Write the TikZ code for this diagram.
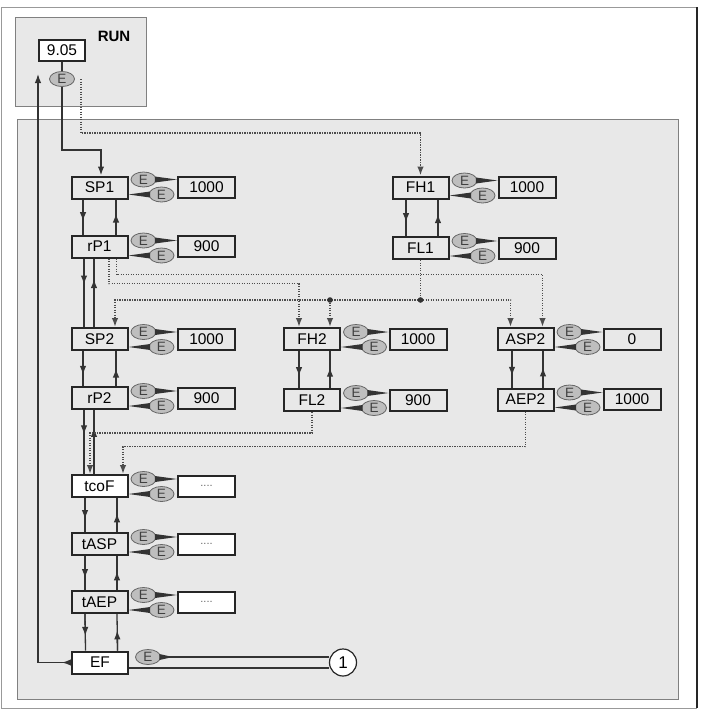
\documentclass[tikz,border=0pt]{standalone}
\usepackage{fontspec}
\setmainfont{Liberation Sans}
\usepackage{xcolor}
\usepackage{tikz}
\usetikzlibrary{arrows.meta,positioning,shapes.geometric,calc}
\definecolor{panelgray}{HTML}{E8E8E8}
\definecolor{keygray}{HTML}{BEBEBE}

\begin{document}
\begin{tikzpicture}[
  x=1pt, y=-1pt,
  panel/.style={draw=black!50, line width=1pt, fill=panelgray},
  par/.style={draw=black!85, line width=2pt, minimum width=56pt, minimum height=22pt, inner sep=0pt, font=\fontsize{15.5}{17}\selectfont},
  val/.style={par, minimum width=57pt, minimum height=21pt},
  wht/.style={fill=white},
  dotsval/.style={val, wht, font=\fontsize{11}{11}\selectfont, text=black!60},
  ekey/.style={ellipse, draw=black!60, line width=0.8pt, fill=keygray, minimum width=25pt, minimum height=15pt, inner sep=0pt, font=\fontsize{13.5}{13}\selectfont, text=black!75},
  wedge/.style={fill=black!80},
  flow/.style={draw=black!80, line width=1.3pt},
  dots/.style={draw=black!70, line width=1.5pt, dash pattern=on 1.3pt off 1.2pt},
  arr/.style={-{Latex[length=9pt,width=6.5pt]}}
]
\useasboundingbox (0,0) rectangle (701,710);

% outer frame
\draw[black!40, line width=1pt] (1,708) -- (1,7) -- (697,7);
\draw[black!40, line width=1pt] (1,708) -- (697,708);
\draw[black!85, line width=2pt] (697,7) -- (697,708);

% run mode
\draw[panel] (15,17) rectangle (146,106);
\node[font=\bfseries\fontsize{15}{16}\selectfont] (run) at (114,36) {RUN};
\node[par, wht, minimum width=46pt, minimum height=21pt] (disp) at (62,50.5) {9.05};
\node[ekey] (erun) at (62,79) {E};
\draw[flow] (disp.south) -- (erun.north);

% menu
\draw[panel] (17,119) rectangle (678,699);

% left column
\node[par] (sp1) at (99.5,187.5) {SP1};
\node[val] (sp1v) at (206.5,187) {1000};
\node[ekey] (sp1a) at ([shift={(15,-8)}]sp1.east) {E};
\node[ekey] (sp1b) at ([shift={(33,7)}]sp1.east) {E};

\node[par] (rp1) at (99.5,246.5) {rP1};
\node[val] (rp1v) at (206.5,246.5) {900};
\node[ekey] (rp1a) at ([shift={(15,-6)}]rp1.east) {E};
\node[ekey] (rp1b) at ([shift={(33,9)}]rp1.east) {E};

\node[par] (sp2) at (99.5,339) {SP2};
\node[val] (sp2v) at (206.5,339) {1000};
\node[ekey] (sp2a) at ([shift={(15,-7)}]sp2.east) {E};
\node[ekey] (sp2b) at ([shift={(33,8)}]sp2.east) {E};

\node[par] (rp2) at (99.5,398) {rP2};
\node[val] (rp2v) at (206.5,398) {900};
\node[ekey] (rp2a) at ([shift={(15,-7)}]rp2.east) {E};
\node[ekey] (rp2b) at ([shift={(33,8)}]rp2.east) {E};

\node[par, wht] (tcof) at (99.5,486) {tcoF};
\node[dotsval] (tcofv) at (206.5,486) {....};
\node[ekey] (tcofa) at ([shift={(15,-7)}]tcof.east) {E};
\node[ekey] (tcofb) at ([shift={(33,8)}]tcof.east) {E};

\node[par] (tasp) at (99.5,544) {tASP};
\node[dotsval] (taspv) at (206.5,544) {....};
\node[ekey] (taspa) at ([shift={(15,-7)}]tasp.east) {E};
\node[ekey] (taspb) at ([shift={(33,8)}]tasp.east) {E};

\node[par] (taep) at (99.5,602) {tAEP};
\node[dotsval] (taepv) at (206.5,602) {....};
\node[ekey] (taepa) at ([shift={(15,-7)}]taep.east) {E};
\node[ekey] (taepb) at ([shift={(33,8)}]taep.east) {E};

\node[par, wht] (ef) at (100,662.5) {EF};
\node[ekey] (efa) at ([shift={(19,-5.5)}]ef.east) {E};
\node[circle, draw=black!85, line width=1.2pt, fill=white, minimum size=27pt, inner sep=0pt, font=\fontsize{17}{17}\selectfont] (one) at (343,662.5) {1};

% middle and right columns
\node[par] (fh1) at (420.5,187.5) {FH1};
\node[val] (fh1v) at (527,187.5) {1000};
\node[ekey] (fh1a) at ([shift={(15,-7)}]fh1.east) {E};
\node[ekey] (fh1b) at ([shift={(33,8)}]fh1.east) {E};

\node[par] (fl1) at (420.5,248) {FL1};
\node[val] (fl1v) at (527,248) {900};
\node[ekey] (fl1a) at ([shift={(15,-7)}]fl1.east) {E};
\node[ekey] (fl1b) at ([shift={(33,8)}]fl1.east) {E};

\node[par] (fh2) at (312,339) {FH2};
\node[val] (fh2v) at (418,339) {1000};
\node[ekey] (fh2a) at ([shift={(15,-7)}]fh2.east) {E};
\node[ekey] (fh2b) at ([shift={(33,8)}]fh2.east) {E};

\node[par] (fl2) at (312,400) {FL2};
\node[val] (fl2v) at (418,400) {900};
\node[ekey] (fl2a) at ([shift={(15,-7)}]fl2.east) {E};
\node[ekey] (fl2b) at ([shift={(33,8)}]fl2.east) {E};

\node[par] (asp2) at (525.5,339) {ASP2};
\node[val] (asp2v) at (632,339) {0};
\node[ekey] (asp2a) at ([shift={(15,-7)}]asp2.east) {E};
\node[ekey] (asp2b) at ([shift={(33,8)}]asp2.east) {E};

\node[par] (aep2) at (525.5,399.5) {AEP2};
\node[val] (aep2v) at (632,399.5) {1000};
\node[ekey] (aep2a) at ([shift={(15,-7)}]aep2.east) {E};
\node[ekey] (aep2b) at ([shift={(33,8)}]aep2.east) {E};

% key wedges
\fill[wedge] ([shift={(-1.5,-3)}]sp1a.east) -- ([shift={(-1.5,3)}]sp1a.east) -- (sp1a -| sp1v.west) -- cycle;
\fill[wedge] ([shift={(1.5,-3)}]sp1b.west) -- ([shift={(1.5,3)}]sp1b.west) -- (sp1b -| sp1.east) -- cycle;
\fill[wedge] ([shift={(-1.5,-3)}]rp1a.east) -- ([shift={(-1.5,3)}]rp1a.east) -- (rp1a -| rp1v.west) -- cycle;
\fill[wedge] ([shift={(1.5,-3)}]rp1b.west) -- ([shift={(1.5,3)}]rp1b.west) -- (rp1b -| rp1.east) -- cycle;
\fill[wedge] ([shift={(-1.5,-3)}]sp2a.east) -- ([shift={(-1.5,3)}]sp2a.east) -- (sp2a -| sp2v.west) -- cycle;
\fill[wedge] ([shift={(1.5,-3)}]sp2b.west) -- ([shift={(1.5,3)}]sp2b.west) -- (sp2b -| sp2.east) -- cycle;
\fill[wedge] ([shift={(-1.5,-3)}]rp2a.east) -- ([shift={(-1.5,3)}]rp2a.east) -- (rp2a -| rp2v.west) -- cycle;
\fill[wedge] ([shift={(1.5,-3)}]rp2b.west) -- ([shift={(1.5,3)}]rp2b.west) -- (rp2b -| rp2.east) -- cycle;
\fill[wedge] ([shift={(-1.5,-3)}]tcofa.east) -- ([shift={(-1.5,3)}]tcofa.east) -- (tcofa -| tcofv.west) -- cycle;
\fill[wedge] ([shift={(1.5,-3)}]tcofb.west) -- ([shift={(1.5,3)}]tcofb.west) -- (tcofb -| tcof.east) -- cycle;
\fill[wedge] ([shift={(-1.5,-3)}]taspa.east) -- ([shift={(-1.5,3)}]taspa.east) -- (taspa -| taspv.west) -- cycle;
\fill[wedge] ([shift={(1.5,-3)}]taspb.west) -- ([shift={(1.5,3)}]taspb.west) -- (taspb -| tasp.east) -- cycle;
\fill[wedge] ([shift={(-1.5,-3)}]taepa.east) -- ([shift={(-1.5,3)}]taepa.east) -- (taepa -| taepv.west) -- cycle;
\fill[wedge] ([shift={(1.5,-3)}]taepb.west) -- ([shift={(1.5,3)}]taepb.west) -- (taepb -| taep.east) -- cycle;
\fill[wedge] ([shift={(-1.5,-3)}]fh1a.east) -- ([shift={(-1.5,3)}]fh1a.east) -- (fh1a -| fh1v.west) -- cycle;
\fill[wedge] ([shift={(1.5,-3)}]fh1b.west) -- ([shift={(1.5,3)}]fh1b.west) -- (fh1b -| fh1.east) -- cycle;
\fill[wedge] ([shift={(-1.5,-3)}]fl1a.east) -- ([shift={(-1.5,3)}]fl1a.east) -- (fl1a -| fl1v.west) -- cycle;
\fill[wedge] ([shift={(1.5,-3)}]fl1b.west) -- ([shift={(1.5,3)}]fl1b.west) -- (fl1b -| fl1.east) -- cycle;
\fill[wedge] ([shift={(-1.5,-3)}]fh2a.east) -- ([shift={(-1.5,3)}]fh2a.east) -- (fh2a -| fh2v.west) -- cycle;
\fill[wedge] ([shift={(1.5,-3)}]fh2b.west) -- ([shift={(1.5,3)}]fh2b.west) -- (fh2b -| fh2.east) -- cycle;
\fill[wedge] ([shift={(-1.5,-3)}]fl2a.east) -- ([shift={(-1.5,3)}]fl2a.east) -- (fl2a -| fl2v.west) -- cycle;
\fill[wedge] ([shift={(1.5,-3)}]fl2b.west) -- ([shift={(1.5,3)}]fl2b.west) -- (fl2b -| fl2.east) -- cycle;
\fill[wedge] ([shift={(-1.5,-3)}]asp2a.east) -- ([shift={(-1.5,3)}]asp2a.east) -- (asp2a -| asp2v.west) -- cycle;
\fill[wedge] ([shift={(1.5,-3)}]asp2b.west) -- ([shift={(1.5,3)}]asp2b.west) -- (asp2b -| asp2.east) -- cycle;
\fill[wedge] ([shift={(-1.5,-3)}]aep2a.east) -- ([shift={(-1.5,3)}]aep2a.east) -- (aep2a -| aep2v.west) -- cycle;
\fill[wedge] ([shift={(1.5,-3)}]aep2b.west) -- ([shift={(1.5,3)}]aep2b.west) -- (aep2b -| aep2.east) -- cycle;
\fill[wedge] ([shift={(-1.5,-3)}]efa.east) -- ([shift={(-1.5,3)}]efa.east) -- ([xshift=12pt]efa.east) -- cycle;

% EF exits to 1
\draw[flow] (efa.east) -- (efa -| one.west);
\draw[flow] ([yshift=-5.5pt]ef.east) -- ([yshift=-5.5pt]ef.east -| one.west);

% from RUN into the menu
\draw[flow, line width=1.7pt, arr] (erun.south) -- ++(0,63) -| ([xshift=1.5pt]sp1.north);
\draw[dots, arr] ([xshift=6pt]erun.east) -- ++(0,54) -| (fh1.north);

% back to RUN
\coordinate (back) at ([yshift=-12pt]disp.south west);
\draw[flow, arr] (ef.west) -| (back);
\draw[flow, arr] (ef.west) -- ++(-9,0);

% scrolling, left column (line, then arrow part way)
\draw[flow] ([xshift=-16.5pt]sp1.south) -- ([xshift=-16.5pt]rp1.north);
\draw[flow, arr] ([xshift=-16.5pt]sp1.south) -- ($([xshift=-16.5pt]sp1.south)!0.62!([xshift=-16.5pt]rp1.north)$);
\draw[flow] ([xshift=16.5pt]rp1.north) -- ([xshift=16.5pt]sp1.south);
\draw[flow, arr] ([xshift=16.5pt]rp1.north) -- ($([xshift=16.5pt]rp1.north)!0.6!([xshift=16.5pt]sp1.south)$);
\draw[flow] ([xshift=-15.5pt]rp1.south) -- ([xshift=-15.5pt]sp2.north);
\draw[flow, arr] ([xshift=-15.5pt]rp1.south) -- ($([xshift=-15.5pt]rp1.south)!0.38!([xshift=-15.5pt]sp2.north)$);
\draw[flow] ([xshift=-5.5pt]sp2.north) -- ([xshift=-5.5pt]rp1.south);
\draw[flow, arr] ([xshift=-5.5pt]sp2.north) -- ($([xshift=-5.5pt]sp2.north)!0.7!([xshift=-5.5pt]rp1.south)$);
\draw[flow] ([xshift=-16.5pt]sp2.south) -- ([xshift=-16.5pt]rp2.north);
\draw[flow, arr] ([xshift=-16.5pt]sp2.south) -- ($([xshift=-16.5pt]sp2.south)!0.68!([xshift=-16.5pt]rp2.north)$);
\draw[flow] ([xshift=16.5pt]rp2.north) -- ([xshift=16.5pt]sp2.south);
\draw[flow, arr] ([xshift=16.5pt]rp2.north) -- ($([xshift=16.5pt]rp2.north)!0.5!([xshift=16.5pt]sp2.south)$);
\draw[flow] ([xshift=-15.5pt]rp2.south) -- ([xshift=-15.5pt]tcof.north);
\draw[flow, arr] ([xshift=-15.5pt]rp2.south) -- ($([xshift=-15.5pt]rp2.south)!0.38!([xshift=-15.5pt]tcof.north)$);
\draw[flow] ([xshift=-5.5pt]tcof.north) -- ([xshift=-5.5pt]rp2.south);
\draw[flow, arr] ([xshift=-5.5pt]tcof.north) -- ($([xshift=-5.5pt]tcof.north)!0.72!([xshift=-5.5pt]rp2.south)$);
\draw[flow] ([xshift=-14.5pt]tcof.south) -- ([xshift=-14.5pt]tasp.north);
\draw[flow, arr] ([xshift=-14.5pt]tcof.south) -- ($([xshift=-14.5pt]tcof.south)!0.62!([xshift=-14.5pt]tasp.north)$);
\draw[flow] ([xshift=17.5pt]tasp.north) -- ([xshift=17.5pt]tcof.south);
\draw[flow, arr] ([xshift=17.5pt]tasp.north) -- ($([xshift=17.5pt]tasp.north)!0.55!([xshift=17.5pt]tcof.south)$);
\draw[flow] ([xshift=-14.5pt]tasp.south) -- ([xshift=-14.5pt]taep.north);
\draw[flow, arr] ([xshift=-14.5pt]tasp.south) -- ($([xshift=-14.5pt]tasp.south)!0.65!([xshift=-14.5pt]taep.north)$);
\draw[flow] ([xshift=17.5pt]taep.north) -- ([xshift=17.5pt]tasp.south);
\draw[flow, arr] ([xshift=17.5pt]taep.north) -- ($([xshift=17.5pt]taep.north)!0.55!([xshift=17.5pt]tasp.south)$);
\draw[flow] ([xshift=-14.5pt]taep.south) -- ([xshift=-14.5pt]ef.north);
\draw[flow, arr] ([xshift=-14.5pt]taep.south) -- ($([xshift=-14.5pt]taep.south)!0.6!([xshift=-14.5pt]ef.north)$);
\draw[flow] ([xshift=17.5pt]ef.north) -- ([xshift=17.5pt]taep.south);
\draw[flow, arr] ([xshift=17.5pt]ef.north) -- ($([xshift=17.5pt]ef.north)!0.55!([xshift=17.5pt]taep.south)$);

% scrolling, other columns
\draw[flow] ([xshift=-14.5pt]fh1.south) -- ([xshift=-14.5pt]fl1.north);
\draw[flow, arr] ([xshift=-14.5pt]fh1.south) -- ($([xshift=-14.5pt]fh1.south)!0.62!([xshift=-14.5pt]fl1.north)$);
\draw[flow] ([xshift=17.5pt]fl1.north) -- ([xshift=17.5pt]fh1.south);
\draw[flow, arr] ([xshift=17.5pt]fl1.north) -- ($([xshift=17.5pt]fl1.north)!0.6!([xshift=17.5pt]fh1.south)$);
\draw[flow] ([xshift=-13pt]fh2.south) -- ([xshift=-13pt]fl2.north);
\draw[flow, arr] ([xshift=-13pt]fh2.south) -- ($([xshift=-13pt]fh2.south)!0.68!([xshift=-13pt]fl2.north)$);
\draw[flow] ([xshift=18pt]fl2.north) -- ([xshift=18pt]fh2.south);
\draw[flow, arr] ([xshift=18pt]fl2.north) -- ($([xshift=18pt]fl2.north)!0.55!([xshift=18pt]fh2.south)$);
\draw[flow] ([xshift=-13.5pt]asp2.south) -- ([xshift=-13.5pt]aep2.north);
\draw[flow, arr] ([xshift=-13.5pt]asp2.south) -- ($([xshift=-13.5pt]asp2.south)!0.68!([xshift=-13.5pt]aep2.north)$);
\draw[flow] ([xshift=17.5pt]aep2.north) -- ([xshift=17.5pt]asp2.south);
\draw[flow, arr] ([xshift=17.5pt]aep2.north) -- ($([xshift=17.5pt]aep2.north)!0.55!([xshift=17.5pt]asp2.south)$);

% dotted jumps
\draw[dots, arr] ([xshift=17pt]rp1.south) -- ++(0,16) -| ([xshift=17pt]asp2.north);
\draw[dots, arr] ([xshift=9.5pt]rp1.south) -- ++(0,25) -| ([xshift=-13pt]fh2.north);
\draw[dots] (fl1.south) -- ++(0,40) coordinate (j1);
\coordinate (j2) at ([xshift=18pt]fh2.north |- j1);
\draw[dots, arr] (j1) -| ([xshift=15.5pt]sp2.north);
\draw[dots, arr] (j1) -| ([xshift=-15pt]asp2.north);
\draw[dots, arr] (j2) -- ([xshift=18pt]fh2.north);
\fill[black!80] (j1) circle (2.8pt) (j2) circle (2.8pt);
\draw[dots, arr] (fl2.south) -- ++(0,21) -| ([xshift=-9.5pt]tcof.north);
\draw[dots, arr] (aep2.south) -- ++(0,35) -| ([xshift=23.5pt]tcof.north);
\end{tikzpicture}
\end{document}
